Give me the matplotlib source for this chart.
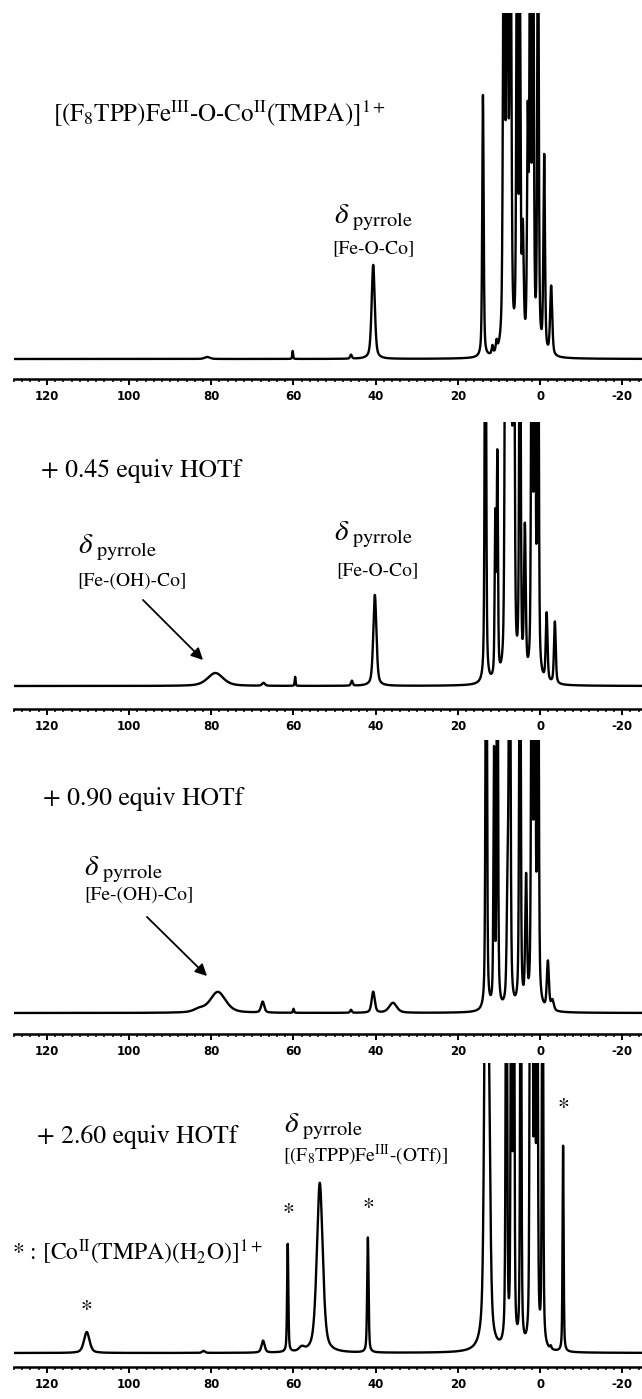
import numpy as np
import matplotlib
matplotlib.use("Agg")
import matplotlib.pyplot as plt
from matplotlib.patches import FancyArrowPatch
from matplotlib.ticker import MultipleLocator

plt.rcParams['font.family'] = ['STIXGeneral', 'DejaVu Serif']
plt.rcParams['mathtext.fontset'] = 'stix'
plt.rcParams['axes.unicode_minus'] = False

# --- peak lists (ppm, height in px above baseline, FWHM in ppm) ---
p1_pos = [81.0, 60.2, 46.0, 40.6, 13.9, 11.6, 10.6, 8.8, 8.0, 7.2, 5.6, 4.9, 4.2, 3.0, 2.4, 1.7, 0.5, -1.0, -2.7]
p1_hgt = [2, 8, 4, 94, 262, 8, 10, 500, 500, 500, 500, 340, 110, 217, 500, 500, 500, 196, 69]
p1_wid = [1.5, 0.25, 0.5, 0.9, 0.4, 0.4, 0.4, 0.5, 0.5, 0.5, 0.4, 0.4, 0.5, 0.4, 0.4, 0.4, 0.4, 0.45, 0.6]

p2_pos = [79.0, 67.3, 59.6, 45.8, 40.2, 13.3, 10.9, 10.4, 8.4, 7.8, 7.1, 6.4, 4.9, 3.7, 2.0, 1.3, 0.5, -1.6, -3.6]
p2_hgt = [13, 3, 9, 5, 91, 500, 158, 219, 500, 500, 500, 500, 500, 146, 500, 500, 500, 68, 62]
p2_wid = [4.5, 0.8, 0.25, 0.5, 0.9, 0.4, 0.35, 0.35, 0.45, 0.45, 0.45, 0.45, 0.4, 0.5, 0.4, 0.4, 0.4, 0.5, 0.5]

p3_pos = [83.0, 78.4, 67.5, 60.0, 46.0, 40.6, 35.8, 13.1, 11.2, 10.4, 7.9, 7.4, 4.9, 3.4, 2.0, 1.3, 0.5, -1.9, -3.0]
p3_hgt = [3, 21, 11, 4, 3, 21, 10, 500, 251, 500, 105, 500, 500, 126, 500, 500, 500, 48, 10]
p3_wid = [3.0, 4.5, 0.9, 0.3, 0.5, 0.9, 2.2, 0.4, 0.35, 0.35, 0.5, 0.45, 0.4, 0.5, 0.4, 0.4, 0.4, 0.6, 0.8]

p4_pos = [110.3, 81.9, 67.4, 61.4, 58.0, 53.6, 41.9, 13.1, 12.4, 8.2, 7.0, 6.4, 4.7, 2.4, 1.9, 1.3, 0.7, -0.6, -2.6, -5.6]
p4_hgt = [21, 2, 12, 108, 4, 170, 115, 600, 150, 500, 500, 500, 500, 500, 500, 500, 500, 500, 3, 206]
p4_wid = [1.6, 0.8, 0.9, 0.35, 1.5, 1.7, 0.4, 0.9, 0.8, 0.4, 0.35, 0.35, 0.35, 0.35, 0.35, 0.35, 0.35, 0.35, 0.4, 0.3]

panels = [(p1_pos, p1_hgt, p1_wid), (p2_pos, p2_hgt, p2_wid),
          (p3_pos, p3_hgt, p3_wid), (p4_pos, p4_hgt, p4_wid)]

# pixel layout of each panel: (clip top, baseline, ruler line)
rows = [(13, 359, 379), (422, 686, 709), (740, 1013, 1034), (1063, 1353, 1367)]

W, H = 642, 1399
XL, XR = 128.0, -24.8
major_ticks = [120, 100, 80, 60, 40, 20, 0, -20]


def spectrum(ppm, pos, hgt, wid):
    y = np.zeros_like(ppm)
    for p, h, w in zip(pos, hgt, wid):
        hw = w / 2.0
        lor = 1.0 / (1.0 + ((ppm - p) / hw) ** 2)
        gau = np.exp(-np.log(2) * ((ppm - p) / hw) ** 2)
        y += h * (0.5 * lor + 0.5 * gau)
    return y


def fx(x):
    return x / W


def fy(y):
    return 1 - y / H


fig = plt.figure(figsize=(W / 100, H / 100), dpi=100)
ppm = np.linspace(XL, XR, 12000)

for (pos, hgt, wid), (top, base, rule) in zip(panels, rows):
    ax = fig.add_axes([14 / W, fy(rule), 1 - 14 / W, (rule - top) / H])
    ax.plot(ppm, spectrum(ppm, pos, hgt, wid), color='black', lw=1.7)
    ax.set_xlim(XL, XR)
    ax.set_ylim(-(rule - base), base - top)
    for s in ['top', 'left', 'right']:
        ax.spines[s].set_visible(False)
    ax.spines['bottom'].set_linewidth(1.8)
    ax.set_yticks([])
    ax.set_xticks(major_ticks)
    ax.xaxis.set_minor_locator(MultipleLocator(2))
    ax.tick_params(axis='x', which='major', length=4.5, width=1.4, pad=3.5, direction='out')
    ax.tick_params(axis='x', which='minor', length=2.5, width=1.1, direction='out')
    for lab in ax.get_xticklabels():
        lab.set_fontfamily('DejaVu Sans')
        lab.set_fontweight('heavy')
        lab.set_fontsize(8.5)

delta = r'$\delta_{\ \mathrm{pyrrole}}$'

# panel 1
fig.text(fx(53), fy(122), r'[(F$_8$TPP)Fe$^{\mathrm{III}}$-O-Co$^{\mathrm{II}}$(TMPA)]$^{1+}$', fontsize=18, va='baseline')
fig.text(fx(334), fy(223), delta, fontsize=21, va='baseline')
fig.text(fx(373), fy(253), '[Fe-O-Co]', fontsize=14, va='baseline', ha='center')

# panel 2
fig.text(fx(41), fy(477), '+ 0.45 equiv HOTf', fontsize=18.5, va='baseline')
fig.text(fx(78), fy(553), delta, fontsize=21, va='baseline')
fig.text(fx(132), fy(586), '[Fe-(OH)-Co]', fontsize=14, va='baseline', ha='center')
fig.text(fx(334), fy(540), delta, fontsize=21, va='baseline')
fig.text(fx(377), fy(575), '[Fe-O-Co]', fontsize=14, va='baseline', ha='center')

# panel 3
fig.text(fx(43), fy(805), '+ 0.90 equiv HOTf', fontsize=18.5, va='baseline')
fig.text(fx(84), fy(875), delta, fontsize=21, va='baseline')
fig.text(fx(139), fy(900), '[Fe-(OH)-Co]', fontsize=14, va='baseline', ha='center')

# panel 4
fig.text(fx(37), fy(1143), '+ 2.60 equiv HOTf', fontsize=18.5, va='baseline')
fig.text(fx(284), fy(1132), delta, fontsize=21, va='baseline')
fig.text(fx(366), fy(1162), r'[(F$_8$TPP)Fe$^{\mathrm{III}}$-(OTf)]', fontsize=14, va='baseline', ha='center')
fig.text(fx(12), fy(1260), r'* : [Co$^{\mathrm{II}}$(TMPA)(H$_2$O)]$^{1+}$', fontsize=17, va='baseline')
for sx, sy in [(86, 1310), (288, 1213), (368, 1208), (563, 1108)]:
    fig.text(fx(sx), fy(sy), '*', fontsize=17, ha='center', va='center')

# arrows to the broad Fe-(OH)-Co signal
for (x0, y0), (x1, y1) in [((141, 598), (205, 662)), ((145, 915), (209, 978))]:
    arr = FancyArrowPatch((fx(x0), fy(y0)), (fx(x1), fy(y1)), transform=fig.transFigure,
                          arrowstyle='-|>,head_length=7,head_width=3.5', color='black', lw=1.3)
    fig.add_artist(arr)

fig.savefig('out.png', dpi=100, facecolor='white')
